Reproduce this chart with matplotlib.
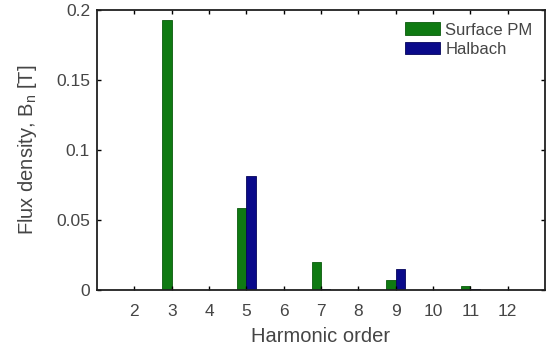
import numpy as np
import matplotlib
matplotlib.use("Agg")
import matplotlib.pyplot as plt

# harmonic amplitudes of the airgap flux density
harmonics = [2, 3, 4, 5, 6, 7, 8, 9, 10, 11, 12]
surface_pm = [0.0, 0.193, 0.0, 0.0586, 0.0, 0.0202, 0.0, 0.0071, 0.0, 0.0029, 0.0]
halbach = [0.0, 0.0, 0.0, 0.0814, 0.0, 0.0008, 0.0, 0.0148, 0.0, 0.0008, 0.0]

plt.rcParams['font.family'] = ['Liberation Sans', 'DejaVu Sans']

fig = plt.figure(figsize=(5.49, 3.52), dpi=100)
ax = fig.add_axes([0.1767, 0.176, 0.816, 0.796])

x = np.array(harmonics, dtype=float)
w = 0.25
ax.bar(x - w/2, surface_pm, w, color='#0f7a12', edgecolor='#0a5a0c', linewidth=0.6, label='Surface PM')
ax.bar(x + w/2, halbach, w, color='#0a0a8a', edgecolor='#05055a', linewidth=0.6, label='Halbach')

ax.set_xlim(1, 13)
ax.set_ylim(0, 0.2)
ax.set_xticks(harmonics)
ax.set_yticks([0, 0.05, 0.1, 0.15, 0.2])
ax.set_yticklabels(['0', '0.05', '0.1', '0.15', '0.2'])
ax.tick_params(direction='in', top=True, right=True, length=3, width=1,
               labelsize=12.5, labelcolor='#454545', pad=5)
ax.tick_params(axis='x', pad=10)
for s in ax.spines.values():
    s.set_linewidth(1.3)
    s.set_color('#202020')

ax.set_xlabel('Harmonic order', fontsize=14.5, color='#454545', labelpad=6)
ax.set_ylabel(r'Flux density, B$\mathregular{_n}$ [T]', fontsize=14.5, color='#454545', labelpad=12)

leg = ax.legend(loc='upper right', frameon=False, fontsize=12, handlelength=2.1,
                handleheight=0.8, handletextpad=0.3, labelspacing=0.25,
                borderaxespad=0.55, borderpad=0.2)
for t in leg.get_texts():
    t.set_color('#454545')

fig.savefig('out.png', dpi=100)
